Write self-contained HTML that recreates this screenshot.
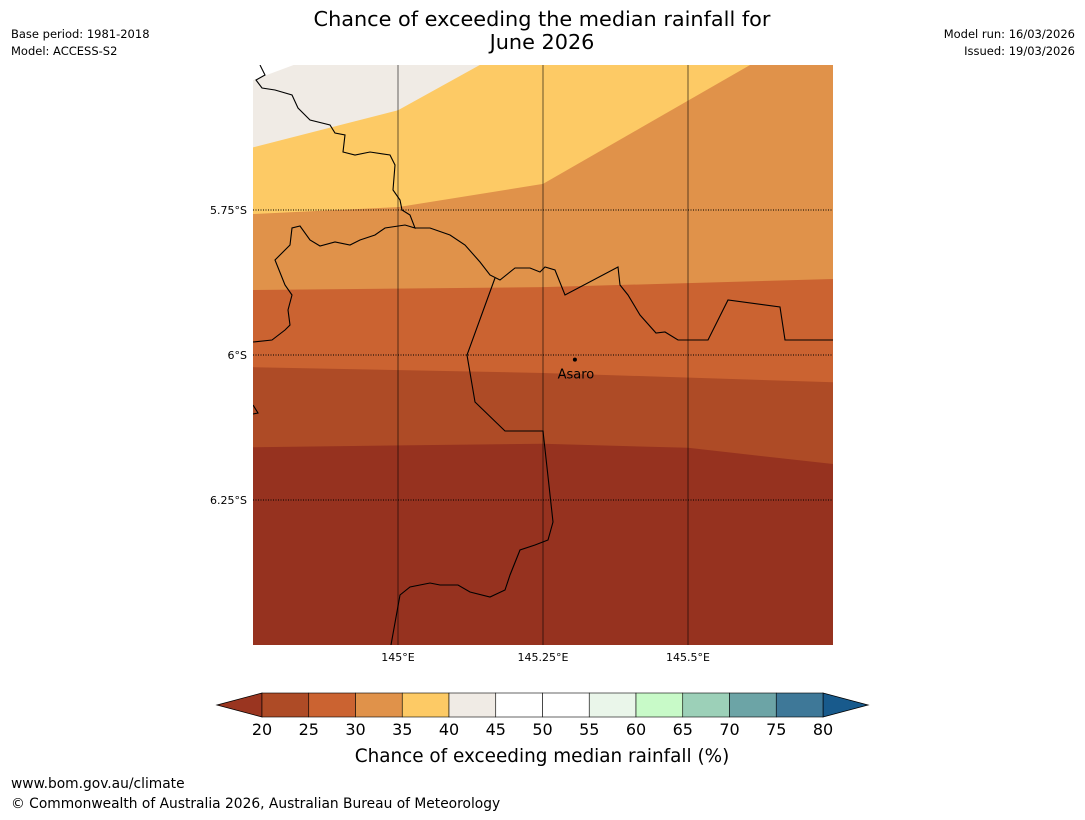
<!DOCTYPE html>
<html><head><meta charset="utf-8"><style>
body{margin:0;background:#fff;font-family:"DejaVu Sans","Liberation Sans",sans-serif;}
svg text{font-family:"DejaVu Sans","Liberation Sans",sans-serif;}
</style></head><body>
<svg width="1085" height="816" viewBox="0 0 1085 816">
<text x="542" y="26" font-size="20.8" text-anchor="middle">Chance of exceeding the median rainfall for</text>
<text x="542" y="49" font-size="20.8" text-anchor="middle">June 2026</text>
<text x="11" y="38" font-size="11.5">Base period: 1981-2018</text>
<text x="11" y="55" font-size="11.5">Model: ACCESS-S2</text>
<text x="1075" y="38" font-size="11.5" text-anchor="end">Model run: 16/03/2026</text>
<text x="1075" y="55" font-size="11.5" text-anchor="end">Issued: 19/03/2026</text>
<text x="11" y="788" font-size="13.8">www.bom.gov.au/climate</text>
<text x="11" y="808" font-size="13.8">© Commonwealth of Australia 2026, Australian Bureau of Meteorology</text>
<defs><clipPath id="mapclip"><rect x="253" y="65" width="580" height="580"/></clipPath></defs>
<g id="map" clip-path="url(#mapclip)"></g>
<g id="axes"></g>
<g id="cbar"></g>
<text x="542" y="762" font-size="18.4" text-anchor="middle">Chance of exceeding median rainfall (%)</text>
</svg>
<script>
// map extent
const lonMin=144.75, lonMax=145.75, latTop=-5.5, latBot=-6.5;
const X=lon=>253+(lon-lonMin)/(lonMax-lonMin)*580;
const Y=lat=>65+(latTop-lat)/(latTop-latBot)*580;
const NS='http://www.w3.org/2000/svg';
const map=document.getElementById('map');
const axes=document.getElementById('axes');
function mk(tag,attrs,parent){const e=document.createElementNS(NS,tag);for(const k in attrs)e.setAttribute(k,attrs[k]);parent.appendChild(e);return e;}
// contour boundaries [lon,lat]
const edge40=[[144.75,-5.526],[144.82,-5.5]];
const edge45=[[144.75,-5.642],[145.0,-5.578],[145.141,-5.5]];
const edge35=[[144.75,-5.757],[145.0,-5.745],[145.25,-5.705],[145.607,-5.5]];
const edge30=[[144.75,-5.888],[145.25,-5.883],[145.75,-5.869]];
const edge25=[[144.75,-6.021],[145.25,-6.031],[145.75,-6.047]];
const edge20=[[144.75,-6.159],[145.25,-6.153],[145.5,-6.160],[145.75,-6.188]];
const bandColors=['#ffffff','#f0ebe5','#fdca65','#e0924a','#cb6331','#ae4b26','#96321f'];
const bandNames=['band-blank','band-40-45','band-35-40','band-30-35','band-25-30','band-20-25','band-below-20'];
const edges=[edge40,edge45,edge35,edge30,edge25,edge20];
const bg=mk('rect',{x:253,y:65,width:580,height:580,fill:'#96321f'},map);


for(let i=edges.length-1;i>=0;i--){
  const e=edges[i];
  let pts=e.map(p=>X(p[0])+','+Y(p[1]));
  const last=e[e.length-1];
  if(last[1]===-5.5) pts.push(X(lonMin)+','+Y(-5.4));
  else pts=pts.concat([X(lonMax)+','+Y(-5.4),X(lonMin)+','+Y(-5.4)]);
  const poly=mk('polygon',{points:pts.join(' '),fill:bandColors[i]},map);
  
  
}
// borders in pixel-space approximations
const borders=[
 [[260,65],[265,75],[256,80],[262,88],[275,90],[292,95],[298,108],[310,120],[330,125],[335,133],[345,135],[343,152],[355,155],[370,152],[390,155],[395,165],[393,190],[400,200],[402,210],[410,215],[415,228],[405,225],[385,228],[375,235],[360,240],[350,245],[335,242],[320,246],[310,240],[300,226],[292,228],[290,245],[275,260],[285,285],[292,295],[288,310],[290,325],[285,330],[272,340],[253,342]],
 [[415,228],[430,228],[450,235],[465,245],[480,262],[490,275],[500,280],[515,268],[530,268],[540,272],[545,267],[555,270],[565,295],[618,267],[620,285],[628,295],[640,315],[656,333],[665,332],[678,340],[708,340],[728,300],[780,307],[785,340],[833,340]],
 [[495,278],[467,355],[475,402],[505,431],[543,431],[553,522],[548,540],[535,545],[520,550],[510,575],[505,590],[490,597],[470,592],[458,585],[440,585],[430,583],[410,587],[400,595],[391,645]],
 [[253,405],[258,413],[253,414]]
];
borders.forEach((b,i)=>{const l=mk('polyline',{points:b.map(p=>p.join(',')).join(' '),fill:'none',stroke:'#000','stroke-width':1.1},map);
 
 });
// gridlines
const lonTicks=[145,145.25,145.5], lonLabels=['145°E','145.25°E','145.5°E'];
const latTicks=[-5.75,-6,-6.25], latLabels=['5.75°S','6°S','6.25°S'];
lonTicks.forEach((v,i)=>{const l=mk('line',{x1:X(v),x2:X(v),y1:65,y2:645,stroke:'rgba(0,0,0,0.45)','stroke-width':1.3},map);
 
 
 const t=mk('text',{x:X(v),y:661,'font-size':11,'text-anchor':'middle'},axes);t.textContent=lonLabels[i];
 
 });
latTicks.forEach((v,i)=>{const l=mk('line',{x1:253,x2:833,y1:Y(v),y2:Y(v),stroke:'#000','stroke-width':1,'stroke-dasharray':'1,1.5'},map);
 
 
 const t=mk('text',{x:247,y:Y(v)+4,'font-size':11,'text-anchor':'end'},axes);t.textContent=latLabels[i];
 
 });
// town
const town=[145.305,-6.008];
const d=mk('circle',{cx:X(town[0]),cy:Y(town[1]),r:2,fill:'#000'},map);


const tt=mk('text',{x:X(town[0])+1,y:Y(town[1])+19,'font-size':13,'text-anchor':'middle'},map);tt.textContent='Asaro';


// colorbar
const cbTicks=[20,25,30,35,40,45,50,55,60,65,70,75,80];
const cbColors=['#ae4b26','#cb6331','#e0924a','#fdca65','#f0ebe5','#ffffff','#ffffff','#eaf6ea','#c8fac8','#9cd0b8','#6ca4a6','#3e7898'];
const cb=document.getElementById('cbar');
const cx=v=>262+(v-20)/60*561;
const lt=mk('polygon',{points:'262,693 262,717 217,705',fill:'#9a3520',stroke:'#000','stroke-width':0.8},cb);


const rt=mk('polygon',{points:'823,693 823,717 868,705',fill:'#185a8c',stroke:'#000','stroke-width':0.8},cb);


cbColors.forEach((c,i)=>{const r=mk('rect',{x:cx(cbTicks[i]),y:693,width:cx(cbTicks[i+1])-cx(cbTicks[i]),height:24,fill:c,stroke:'#000','stroke-width':0.6},cb);
 
 });
cbTicks.forEach(v=>{const t=mk('text',{x:cx(v),y:735,'font-size':16,'text-anchor':'middle'},cb);t.textContent=v;
 
 });
</script>
</body></html>
